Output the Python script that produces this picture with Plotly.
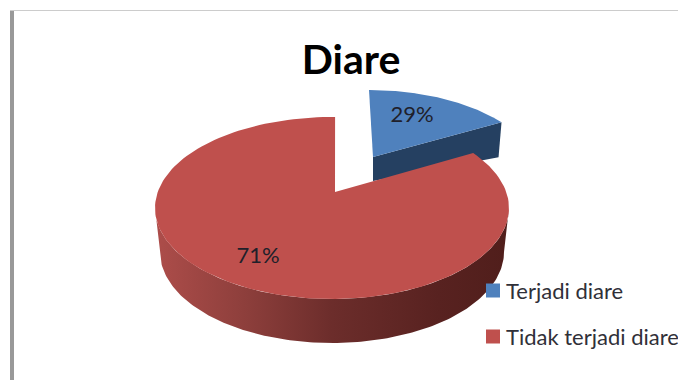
import numpy as np
import plotly.graph_objects as go

# Data
title_text = "Diare"
categories = ["Terjadi diare", "Tidak terjadi diare"]
labels = ["29%", "71%"]          # percentages printed on the slices
drawn_shares = [14, 86]          # share of the circle as drawn in the picture
top_colors = ["#4f81bd", "#bf504d"]
wall_colors = ["#254061", "#254061"]
red_wall_scale = [[0, "#ad4d4a"], [0.25, "#8e3f3c"], [0.5, "#6c2d2b"], [0.8, "#582220"], [1, "#501e1b"]]

W, H = 678, 380
DEPTH = 44
blue_angle = drawn_shares[0] / 100 * 360
red_start = blue_angle + 2.5


def arc(cx, cy, rx, ry, a0, a1, n=160):
    t = np.radians(np.linspace(a0, a1, n))
    return cx + rx * np.sin(t), cy - ry * np.cos(t)


fig = go.Figure()

# Blue exploded slice: cut wall first, top face above it
bcx, bcy, brx, bry = 369, 179, 172, 89
bapex = (373, 157)
bax, bay = arc(bcx, bcy, brx, bry, 0, blue_angle)
wx = [bapex[0], bax[-1], bax[-1] - 3, bapex[0], bapex[0]]
wy = [bapex[1], bay[-1], bay[-1] + 35, bapex[1] + 24, bapex[1]]
fig.add_trace(go.Scatter(x=wx, y=wy, mode="lines", fill="toself", fillcolor=wall_colors[0],
                         line=dict(width=0), hoverinfo="skip", showlegend=False))
fig.add_trace(go.Scatter(x=np.r_[bapex[0], bax, bapex[0]], y=np.r_[bapex[1], bay, bapex[1]],
                         mode="lines", fill="toself", fillcolor=top_colors[0],
                         line=dict(width=0), hoverinfo="skip", showlegend=False))

# Red slice: outer wall with a left-to-right shade, then top face
rcx, rcy, rrx, rry = 332, 208, 177, 91
rapex = (335, 192)
tx, ty = arc(rcx, rcy, rrx, rry, 90, 270)
bx, by = arc(rcx, rcy + DEPTH, 172, rry, 270, 90)
fig.add_trace(go.Scatter(x=np.r_[tx, bx, tx[0]], y=np.r_[ty, by, ty[0]], mode="lines", fill="toself",
                         fillgradient=dict(type="horizontal", colorscale=red_wall_scale),
                         line=dict(width=0), hoverinfo="skip", showlegend=False))
rax, ray = arc(rcx, rcy, rrx, rry, red_start, 360 + 1)
fig.add_trace(go.Scatter(x=np.r_[rapex[0], rax, rapex[0]], y=np.r_[rapex[1], ray, rapex[1]],
                         mode="lines", fill="toself", fillcolor=top_colors[1],
                         line=dict(width=0), hoverinfo="skip", showlegend=False))

# Slice labels
fig.add_trace(go.Scatter(x=[412, 258], y=[116, 257], mode="text", text=labels,
                         textfont=dict(family="Lato", size=22, color="#20202a"),
                         hoverinfo="skip", showlegend=False))

# Legend swatches and names
legend_y = [290.5, 336.5]
fig.add_trace(go.Scatter(x=[493, 493], y=legend_y, mode="markers",
                         marker=dict(symbol="square", size=14, color=top_colors, line=dict(width=0)),
                         hoverinfo="skip", showlegend=False, cliponaxis=False))
annotations = [dict(x=503.5, y=yy, xref="x", yref="y", text=name, showarrow=False, xanchor="left",
                    yanchor="middle", font=dict(family="Lato", size=22, color="#303038"))
               for name, yy in zip(categories, legend_y)]

frame = [
    dict(type="rect", xref="x", yref="y", x0=10, x1=14, y0=10, y1=380, fillcolor="#999999", line=dict(width=0)),
    dict(type="rect", xref="x", yref="y", x0=10, x1=678, y0=10, y1=11, fillcolor="#cccccc", line=dict(width=0)),
]

fig.update_layout(
    width=W, height=H, margin=dict(l=0, r=0, t=0, b=0),
    paper_bgcolor="white", plot_bgcolor="white", showlegend=False,
    title=dict(text=f"<b>{title_text}</b>", x=351 / W, y=1 - 60 / H, xanchor="center", yanchor="middle",
               font=dict(family="Lato", size=41, color="black")),
    xaxis=dict(range=[0, W], visible=False, fixedrange=True),
    yaxis=dict(range=[H, 0], visible=False, fixedrange=True),
    annotations=annotations, shapes=frame,
)
fig.write_html("out.html", config=dict(displayModeBar=False),
               post_script="document.body.style.margin='0';document.documentElement.style.overflow='hidden';")
